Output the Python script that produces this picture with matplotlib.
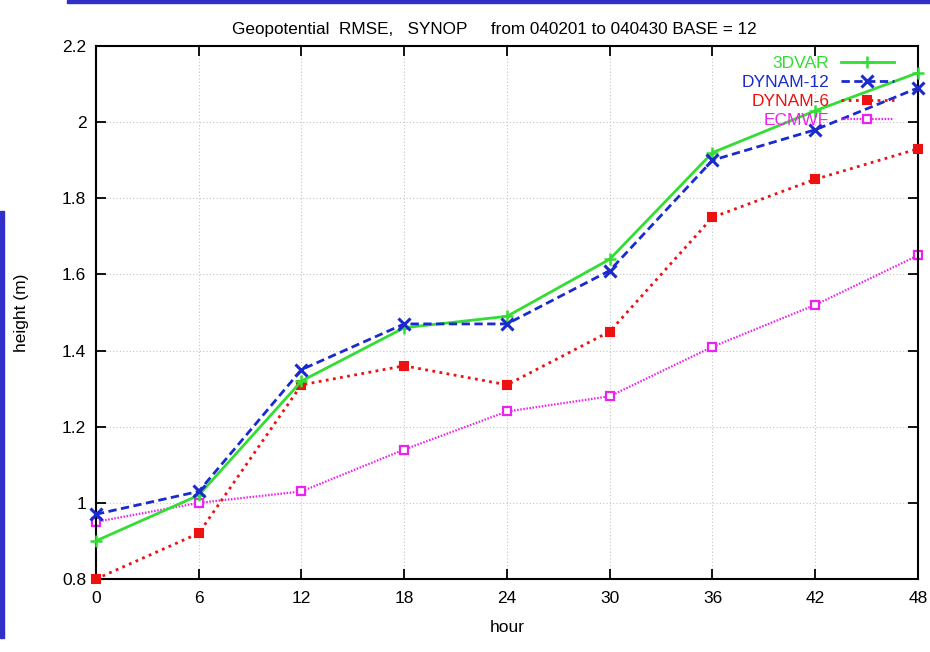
import matplotlib.pyplot as plt
from matplotlib.patches import Rectangle
from matplotlib.ticker import FuncFormatter

plt.rcParams['font.family'] = ['Liberation Sans', 'DejaVu Sans']

hours = [0, 6, 12, 18, 24, 30, 36, 42, 48]

# RMSE of geopotential height per forecast hour
rmse_3dvar = [0.90, 1.02, 1.32, 1.46, 1.49, 1.64, 1.92, 2.03, 2.13]
rmse_dynam12 = [0.97, 1.03, 1.35, 1.47, 1.47, 1.61, 1.90, 1.98, 2.09]
rmse_dynam6 = [0.80, 0.92, 1.31, 1.36, 1.31, 1.45, 1.75, 1.85, 1.93]
rmse_ecmwf = [0.95, 1.00, 1.03, 1.14, 1.24, 1.28, 1.41, 1.52, 1.65]

x_ticks = [0, 6, 12, 18, 24, 30, 36, 42, 48]
y_ticks = [0.8, 1.0, 1.2, 1.4, 1.6, 1.8, 2.0, 2.2]

fig = plt.figure(figsize=(9.3, 6.52), dpi=100)
ax = fig.add_axes([0.1032, 0.112, 0.8839, 0.8174])

# slide frame remnants around the plot
fig.patches.append(Rectangle((0, 0.022), 0.0045, 0.655, transform=fig.transFigure,
                             color='#3030c8', zorder=0))
fig.patches.append(Rectangle((0.072, 0.996), 0.928, 0.004, transform=fig.transFigure,
                             color='#3030c8', zorder=0))

ax.plot(hours, rmse_3dvar, color='#33dd33', lw=2.0, ls='-', marker='+',
        ms=9, mew=1.8, label='3DVAR', clip_on=False, zorder=4)
ax.plot(hours, rmse_dynam12, color='#1a2acc', lw=2.0, ls=(0, (3, 1.6)), marker='x',
        ms=8, mew=2.2, label='DYNAM-12', clip_on=False, zorder=5)
ax.plot(hours, rmse_dynam6, color='#ee1111', lw=2.0, ls=(0, (1, 1.6)), marker='s',
        ms=5.5, mew=1.5, label='DYNAM-6', clip_on=False, zorder=3)
ax.plot(hours, rmse_ecmwf, color='#ee22ee', lw=1.6, ls=(0, (0.7, 0.7)), marker='s',
        ms=6, mew=1.6, mfc='white', label='ECMWF', clip_on=False, zorder=2)

ax.set_xlim(0, 48)
ax.set_ylim(0.8, 2.2)
ax.set_xticks(x_ticks)
ax.set_yticks(y_ticks)
ax.yaxis.set_major_formatter(FuncFormatter(lambda v, p: '%g' % round(v, 2)))

ax.grid(True, color='#c4c4c4', ls=(0, (1, 2)), lw=0.8)
ax.tick_params(direction='in', length=7, width=1.3, top=True, right=True,
               labelsize=12.5, colors='black')
ax.tick_params(axis='x', pad=9)
ax.tick_params(axis='y', pad=7)
for s in ax.spines.values():
    s.set_linewidth(1.5)

ax.set_title('Geopotential  RMSE,   SYNOP     from 040201 to 040430 BASE = 12',
             fontsize=12.3, pad=9, x=0.485)
ax.set_xlabel('hour', fontsize=12.5, labelpad=10)
ax.set_ylabel('height (m)', fontsize=12.5, labelpad=24)

leg = ax.legend(loc='upper right', bbox_to_anchor=(0.985, 1.004), markerfirst=False,
                frameon=False, fontsize=12.5, labelcolor='linecolor', handlelength=3.0,
                handletextpad=0.7, labelspacing=0.22, borderpad=0.2)

fig.savefig('out.png', dpi=100)
